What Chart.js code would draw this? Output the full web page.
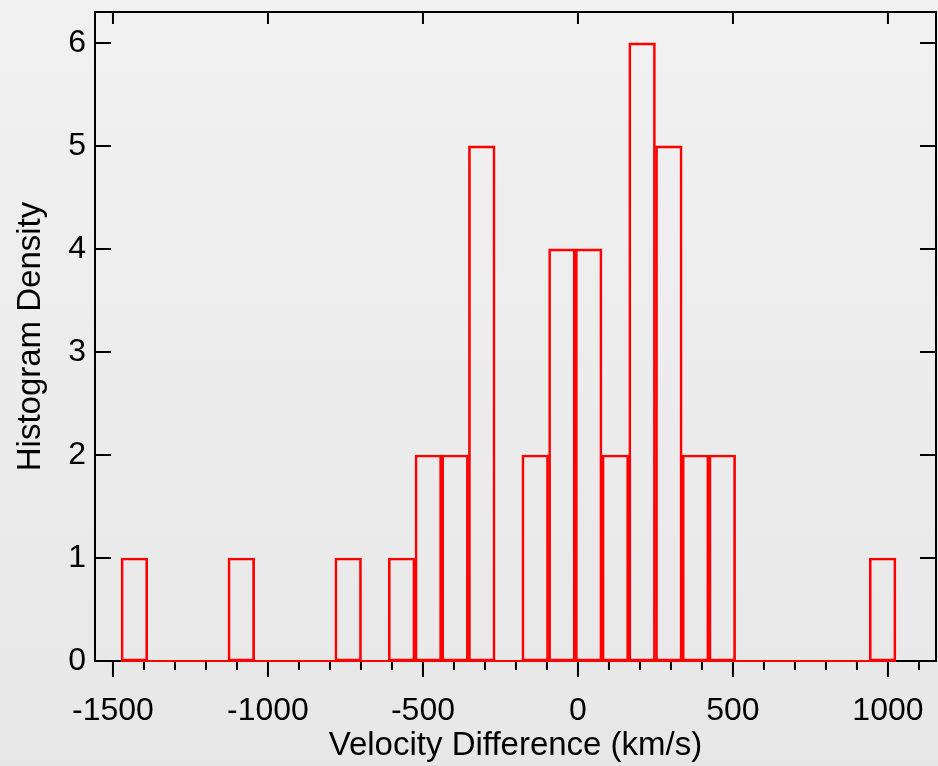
<!DOCTYPE html>
<html>
<head>
<meta charset="utf-8">
<script src="https://cdn.jsdelivr.net/npm/chart.js@4/dist/chart.umd.min.js"></script>
<style>
  html, body { margin: 0; padding: 0; background: #ececec; }
  #wrap { width: 938px; height: 766px; }
</style>
</head>
<body>
<div id="wrap"><canvas id="histChart"></canvas></div>
<script>
// histogram bins (km/s) and counts
let binStart = -1474;
let binWidth = 86.2;
let binCounts = [1, 0, 0, 0, 1, 0, 0, 0, 1, 0, 1, 2, 2, 5, 0, 2, 4, 4, 2, 6, 5, 2, 2, 0, 0, 0, 0, 0, 1];

let xTickValues = [-1500, -1000, -500, 0, 500, 1000];
let xMinorValues = [-1500, -1400, -1300, -1200, -1100, -1000, -900, -800, -700, -600, -500, -400, -300, -200, -100,
                    0, 100, 200, 300, 400, 500, 600, 700, 800, 900, 1000, 1100];
let yTickValues = [0, 1, 2, 3, 4, 5, 6];

let barData = binCounts.map(function(c, i) {
    return { x: binStart + binWidth * (i + 0.5), y: c };
});
let baseData = [
    { x: binStart, y: 0 },
    { x: binStart + binWidth * binCounts.length, y: 0 }
];

const FONT = "'Liberation Sans', Arial, Helvetica, sans-serif";

// background + frame + inward/outward ticks like the original plot
const frame = {
    id: 'frame',
    beforeDraw(chart) {
        const ctx = chart.ctx;
        const g = ctx.createLinearGradient(0, 0, 0, chart.height);
        g.addColorStop(0, '#f1f1f1');
        g.addColorStop(1, '#e7e7e7');
        ctx.save();
        ctx.fillStyle = g;
        ctx.fillRect(0, 0, chart.width, chart.height);
        ctx.restore();
    },
    beforeDatasetsDraw(chart) {
        const ctx = chart.ctx;
        const a = chart.chartArea;
        const xs = chart.scales.x, ys = chart.scales.y;
        ctx.save();
        ctx.strokeStyle = '#000';
        ctx.lineWidth = 2;
        ctx.strokeRect(a.left, a.top, a.right - a.left, a.bottom - a.top);
        ctx.beginPath();
        xTickValues.forEach(function(v) {
            const px = xs.getPixelForValue(v);
            ctx.moveTo(px, a.bottom); ctx.lineTo(px, a.bottom + 16);
            ctx.moveTo(px, a.top); ctx.lineTo(px, a.top + 12);
        });
        xMinorValues.forEach(function(v) {
            const px = xs.getPixelForValue(v);
            ctx.moveTo(px, a.bottom); ctx.lineTo(px, a.bottom + 9);
        });
        yTickValues.forEach(function(v) {
            const py = ys.getPixelForValue(v);
            ctx.moveTo(a.left, py); ctx.lineTo(a.left + 16, py);
            ctx.moveTo(a.right, py); ctx.lineTo(a.right - 16, py);
        });
        ctx.stroke();
        ctx.restore();
    }
};

document.addEventListener("DOMContentLoaded", function() {
    let ctx = document.getElementById("histChart").getContext('2d');
    let histChart = new Chart(ctx, {
        type: 'bar',
        data: {
            datasets: [{
                type: 'line',
                data: baseData,
                borderColor: '#ff0000',
                borderWidth: 2,
                pointRadius: 0,
                clip: false,
                order: 0
            }, {
                data: barData,
                backgroundColor: 'rgba(0,0,0,0)',
                borderColor: '#ff0000',
                borderWidth: 2,
                borderSkipped: false,
                barPercentage: 1.0,
                categoryPercentage: 1.0,
                grouped: false,
                order: 1
            }]
        },
        plugins: [frame],
        options: {
            responsive: true,
            maintainAspectRatio: false,
            animation: false,
            layout: { padding: { top: 12, right: 2, left: 0, bottom: 0 } },
            plugins: {
                legend: { display: false },
                tooltip: { enabled: false }
            },
            scales: {
                x: {
                    type: 'linear',
                    offset: false,
                    min: -1558,
                    max: 1155,
                    grid: { display: false, drawTicks: false },
                    border: { display: false },
                    afterBuildTicks: function(scale) {
                        scale.ticks = xTickValues.map(function(v) { return { value: v }; });
                    },
                    afterFit: function(scale) {
                        scale.height = 105;
                        scale.paddingLeft = 0;
                        scale.paddingRight = 0;
                    },
                    ticks: {
                        padding: 31,
                        maxRotation: 0,
                        color: '#000',
                        font: { family: FONT, size: 32 },
                        callback: function(v) { return String(v); }
                    },
                    title: {
                        display: true,
                        text: 'Velocity Difference (km/s)',
                        color: '#000',
                        padding: 0,
                        font: { family: FONT, size: 33 }
                    }
                },
                y: {
                    min: 0,
                    max: 6.3,
                    grid: { display: false, drawTicks: false },
                    border: { display: false },
                    afterBuildTicks: function(scale) {
                        scale.ticks = yTickValues.map(function(v) { return { value: v }; });
                    },
                    afterFit: function(scale) {
                        scale.width = 95;
                        scale.paddingTop = 0;
                        scale.paddingBottom = 0;
                    },
                    ticks: {
                        padding: 9,
                        color: '#000',
                        font: { family: FONT, size: 32 },
                        callback: function(v) { return String(v); }
                    },
                    title: {
                        display: true,
                        text: 'Histogram Density',
                        color: '#000',
                        padding: { top: 11, bottom: 0 },
                        font: { family: FONT, size: 33 }
                    }
                }
            }
        }
    });
});
</script>
</body>
</html>
